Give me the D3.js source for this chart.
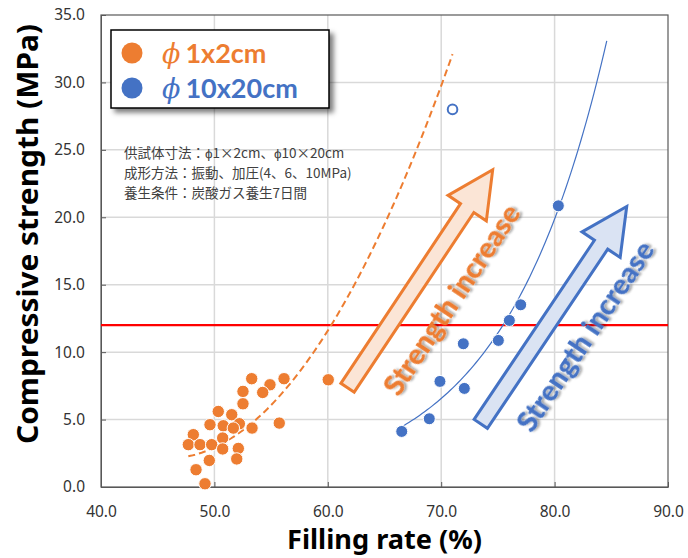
<!DOCTYPE html>
<html>
<head>
<meta charset="utf-8">
<script src="https://cdn.jsdelivr.net/npm/d3@7"></script>
<style>
  body { margin: 0; background: #fff; }
  svg { display: block; }
</style>
</head>
<body>
<div id="chart"></div>
<script>
// ---- data ----
var orangeX = [53.29, 54.90, 56.14, 52.52, 54.26, 52.52, 50.34, 51.53, 49.61, 50.78, 52.20, 51.67, 53.32,
               55.72, 48.14, 50.73, 47.70, 48.73, 49.76, 50.73, 52.11, 49.55, 51.97, 48.38, 49.17, 60.04];
var orangeY = [8.03, 7.58, 8.03, 7.09, 7.01, 6.17, 5.60, 5.36, 4.62, 4.54, 4.69, 4.37, 4.37,
               4.74, 3.88, 3.63, 3.14, 3.14, 3.14, 2.82, 2.86, 1.97, 2.08, 1.28, 0.24, 7.95];
var blueX = [66.52, 68.95, 69.89, 71.95, 72.04, 75.04, 76.01, 77.01, 80.33];
var blueY = [4.12, 5.06, 7.83, 10.62, 7.31, 10.87, 12.35, 13.51, 20.85];
var blueOpenX = [71.0];
var blueOpenY = [28.0];
// trendlines, coefficients
var orangeTrend = [101.99, -4.3548, 0.04747];   // polynomial c0 + c1*x + c2*x^2
var blueTrend = [0.00281, 0.1108];              // exponential a*exp(b*x)
var orangeTrendRange = [47.7, 71.0];
var blueTrendRange = [66.5, 84.6];
var refValue = 12;
var xTicks = [40, 50, 60, 70, 80, 90];
var yTicks = [0, 5, 10, 15, 20, 25, 30, 35];
var legendLabels = ["1x2cm", "10x20cm"];
var noteLines = ["供試体寸法：ϕ1×2cm、ϕ10×20cm", "成形方法：振動、加圧(4、6、10MPa)", "養生条件：炭酸ガス養生7日間"];

var ORANGE = "#ED7D31", BLUE = "#4472C4";
var W = 688, H = 558;
var plot = {left: 101, right: 668, top: 15, bottom: 487};

var svg = d3.select("#chart").append("svg")
    .attr("width", W).attr("height", H)
    .style("font-family", "'Noto Sans', sans-serif");

var defs = svg.append("defs");
defs.append("filter").attr("id", "boxShadow")
    .attr("x", "-10%").attr("y", "-10%").attr("width", "130%").attr("height", "150%")
  .append("feDropShadow")
    .attr("dx", 4).attr("dy", 4).attr("stdDeviation", 2.5)
    .attr("flood-color", "#000").attr("flood-opacity", 0.5);
defs.append("filter").attr("id", "txtShadow")
    .attr("x", "-10%").attr("y", "-30%").attr("width", "120%").attr("height", "160%")
  .append("feDropShadow")
    .attr("dx", 2).attr("dy", 2).attr("stdDeviation", 1.2)
    .attr("flood-color", "#000").attr("flood-opacity", 0.35);

var x = d3.scaleLinear().domain([40, 90]).range([plot.left, plot.right]);
var y = d3.scaleLinear().domain([0, 35]).range([plot.bottom, plot.top]);

// gridlines
svg.append("g").selectAll("line").data(xTicks.slice(1, -1)).enter().append("line")
    .attr("x1", d => x(d)).attr("x2", d => x(d))
    .attr("y1", plot.top).attr("y2", plot.bottom)
    .attr("stroke", "#d9d9d9").attr("stroke-width", 1.5);
svg.append("g").selectAll("line").data(yTicks.slice(1, -1)).enter().append("line")
    .attr("y1", d => y(d)).attr("y2", d => y(d))
    .attr("x1", plot.left).attr("x2", plot.right)
    .attr("stroke", "#d9d9d9").attr("stroke-width", 1.5);

// axes
var xAxis = svg.append("g").attr("transform", "translate(0," + plot.bottom + ")")
    .call(d3.axisBottom(x).tickValues(xTicks).tickSizeInner(-5).tickSizeOuter(0).tickPadding(19)
        .tickFormat(d3.format(".1f")));
var yAxis = svg.append("g").attr("transform", "translate(" + plot.left + ",0)")
    .call(d3.axisLeft(y).tickValues(yTicks).tickSizeInner(-5).tickSizeOuter(0).tickPadding(16)
        .tickFormat(d3.format(".1f")));
[xAxis, yAxis].forEach(function(g) {
    g.select(".domain").attr("stroke", "#595959");
    g.selectAll(".tick line").attr("stroke", "#595959");
    g.selectAll(".tick text").attr("fill", "#333").style("font-size", "15.5px")
        .style("font-family", "'Noto Sans', sans-serif");
});

// frame
svg.append("rect")
    .attr("x", plot.left).attr("y", plot.top)
    .attr("width", plot.right - plot.left).attr("height", plot.bottom - plot.top)
    .attr("fill", "none").attr("stroke", "#595959").attr("stroke-width", 1.2);

// reference line
svg.append("line")
    .attr("x1", plot.left).attr("x2", plot.right)
    .attr("y1", y(refValue)).attr("y2", y(refValue))
    .attr("stroke", "#ff0000").attr("stroke-width", 2.2);

// trendlines
function sample(f, range) {
    var pts = [];
    for (var i = 0; i <= 80; i++) {
        var v = range[0] + (range[1] - range[0]) * i / 80;
        pts.push([v, f(v)]);
    }
    return pts;
}
var line = d3.line().x(d => x(d[0])).y(d => y(d[1]));
svg.append("path")
    .attr("d", line(sample(v => orangeTrend[0] + orangeTrend[1] * v + orangeTrend[2] * v * v, orangeTrendRange)))
    .attr("fill", "none").attr("stroke", ORANGE).attr("stroke-width", 2)
    .attr("stroke-dasharray", "7,4");
svg.append("path")
    .attr("d", line(sample(v => blueTrend[0] * Math.exp(blueTrend[1] * v), blueTrendRange)))
    .attr("fill", "none").attr("stroke", BLUE).attr("stroke-width", 1.2);

// block arrows
function arrowPoly(p0, p1, w, hw, hl) {
    var dx = p1[0] - p0[0], dy = p1[1] - p0[1], L = Math.hypot(dx, dy);
    var ux = dx / L, uy = dy / L, px = -uy, py = ux;
    var loc = [[0, -w], [L - hl, -w], [L - hl, -hw], [L, 0], [L - hl, hw], [L - hl, w], [0, w]];
    return loc.map(function(q) { return [p0[0] + q[0] * ux + q[1] * px, p0[1] + q[0] * uy + q[1] * py]; });
}
var arrows = [
    {from: [61.74, 7.36], to: [74.54, 23.52], stroke: ORANGE, fill: "#FBE5D6"},
    {from: [73.49, 4.68], to: [86.36, 20.8], stroke: BLUE, fill: "#DAE3F3"}
];
arrows.forEach(function(a) {
    var p0 = [x(a.from[0]), y(a.from[1])], p1 = [x(a.to[0]), y(a.to[1])];
    svg.append("polygon")
        .attr("points", arrowPoly(p0, p1, 8, 23, 46).map(p => p.join(",")).join(" "))
        .attr("fill", a.fill).attr("stroke", a.stroke).attr("stroke-width", 3)
        .attr("stroke-linejoin", "miter");
    var dx = p1[0] - p0[0], dy = p1[1] - p0[1], L = Math.hypot(dx, dy);
    var ux = dx / L, uy = dy / L;
    var cx = p0[0] + 131 * ux + 36 * (-uy), cy = p0[1] + 131 * uy + 36 * ux;
    var ang = Math.atan2(dy, dx) * 180 / Math.PI;
    svg.append("text")
        .attr("transform", "translate(" + cx + "," + cy + ") rotate(" + ang + ")")
        .attr("text-anchor", "middle").attr("dominant-baseline", "central")
        .attr("textLength", 222).attr("lengthAdjust", "spacingAndGlyphs")
        .attr("filter", "url(#txtShadow)")
        .style("font-family", "Lato, sans-serif").style("font-weight", "900").style("font-size", "29px")
        .attr("fill", a.stroke)
        .text("Strength increase");
});

// points
function dots(xs, ys, color, r) {
    svg.append("g").selectAll("circle").data(xs).enter().append("circle")
        .attr("cx", d => x(d)).attr("cy", (d, i) => y(ys[i]))
        .attr("r", r).attr("fill", color).attr("stroke", "#fff").attr("stroke-width", 1);
}
dots(orangeX, orangeY, ORANGE, 6.2);
dots(blueX, blueY, BLUE, 6);
svg.append("g").selectAll("circle").data(blueOpenX).enter().append("circle")
    .attr("cx", d => x(d)).attr("cy", (d, i) => y(blueOpenY[i]))
    .attr("r", 4.8).attr("fill", "#fff").attr("stroke", BLUE).attr("stroke-width", 2);

// notes
svg.append("g").selectAll("text").data(noteLines).enter().append("text")
    .attr("x", 124).attr("y", (d, i) => 158 + i * 20)
    .style("font-family", "'Noto Sans CJK JP', sans-serif").style("font-size", "13.5px")
    .attr("fill", "#404040")
    .text(d => d);

// legend
var lg = svg.append("g");
lg.append("rect").attr("x", 111).attr("y", 30).attr("width", 218).attr("height", 78)
    .attr("fill", "#fff").attr("stroke", "#000").attr("stroke-width", 1.5)
    .attr("filter", "url(#boxShadow)");
[ORANGE, BLUE].forEach(function(c, i) {
    var cy = 53 + i * 35;
    lg.append("circle").attr("cx", 132).attr("cy", cy).attr("r", 10.5).attr("fill", c);
    var t = lg.append("text").attr("x", 162).attr("y", cy + 10).attr("fill", c)
        .style("font-size", "27px").style("font-weight", "bold");
    t.append("tspan").style("font-family", "'DejaVu Serif', serif").style("font-style", "italic")
        .style("font-weight", "normal").text("ϕ");
    t.append("tspan").attr("dx", 5).style("font-family", "Lato, sans-serif").text(legendLabels[i]);
});

// axis titles
svg.append("text")
    .attr("x", (plot.left + plot.right) / 2).attr("y", 549)
    .attr("text-anchor", "middle")
    .attr("textLength", 195).attr("lengthAdjust", "spacingAndGlyphs")
    .style("font-family", "'Noto Sans', sans-serif").style("font-weight", "bold").style("font-size", "27px")
    .attr("fill", "#000")
    .text("Filling rate (%)");
svg.append("text")
    .attr("transform", "translate(38," + 234 + ") rotate(-90)")
    .attr("text-anchor", "middle")
    .attr("textLength", 420).attr("lengthAdjust", "spacingAndGlyphs")
    .style("font-family", "'Noto Sans', sans-serif").style("font-weight", "bold").style("font-size", "28px")
    .attr("fill", "#000")
    .text("Compressive strength (MPa)");
</script>
</body>
</html>
